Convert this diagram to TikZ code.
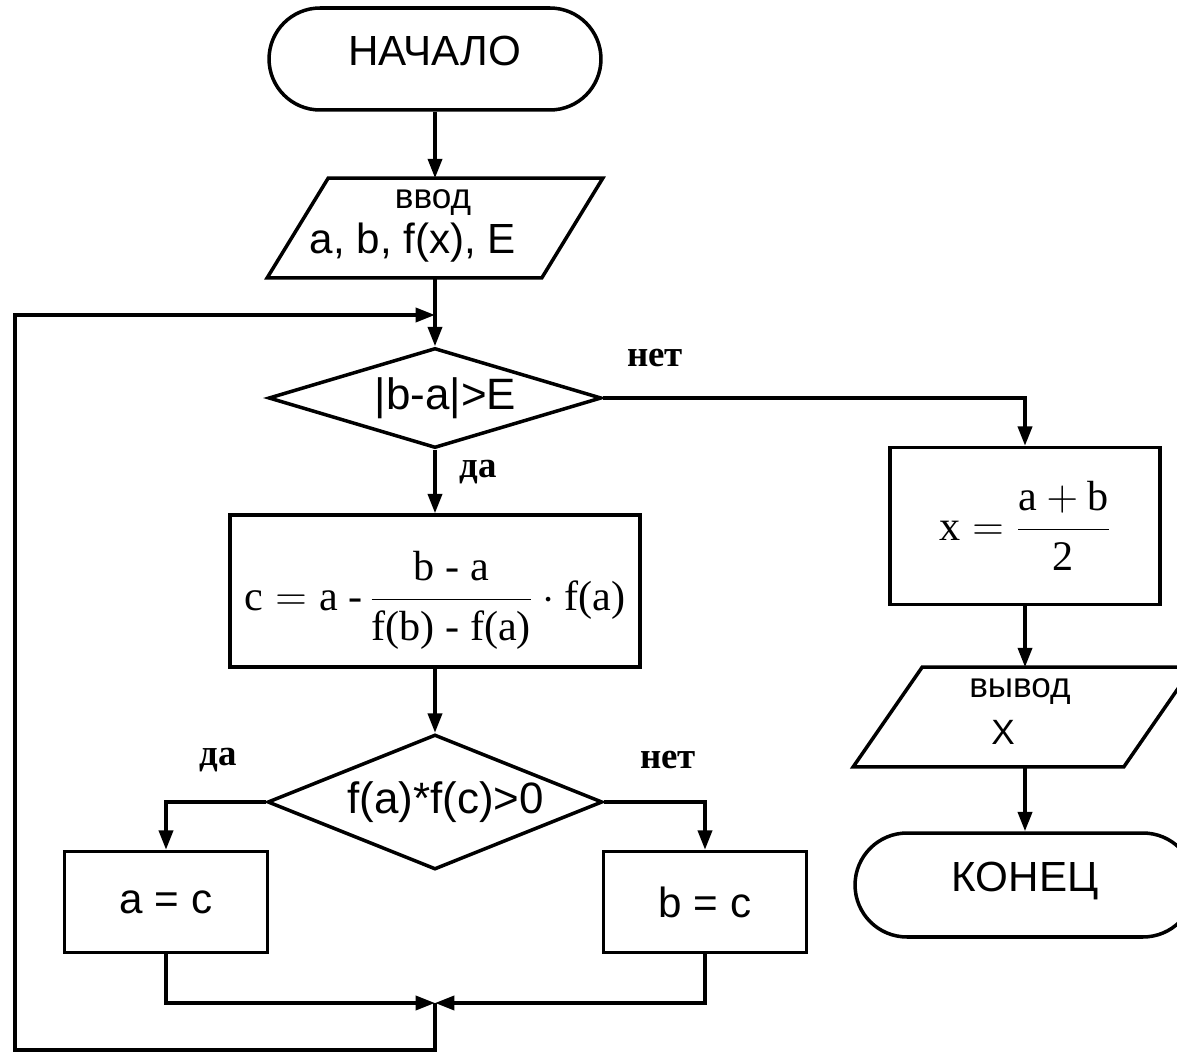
\documentclass[tikz,border=0pt]{standalone}
\usepackage{fontspec}
\setmainfont{Liberation Serif}
\setsansfont{Liberation Sans}
\usetikzlibrary{shapes.geometric,shapes.misc,arrows.meta}

\tikzset{
  termbox/.style={draw, rounded rectangle, line width=2pt, inner sep=0pt,
    font=\sffamily\fontsize{24}{28}\selectfont},
  iobox/.style={rectangle, inner sep=0pt},
  ioline/.style={line width=2pt, line join=miter},
  ifbox/.style={draw, diamond, line width=2pt, inner sep=0pt,
    font=\sffamily\fontsize{25}{28}\selectfont},
  procbox/.style={draw, rectangle, line width=2pt, inner sep=0pt,
    font=\sffamily\fontsize{24}{28}\selectfont},
  iotext/.style={font=\sffamily\fontsize{20}{22}\selectfont},
  yesno/.style={font=\rmfamily\bfseries\fontsize{21}{24}\selectfont},
  flow/.style={line width=2pt, -{Triangle[length=11pt,width=8pt]}},
}

\begin{document}
\begin{tikzpicture}[x=0.02cm, y=-0.02cm]
  \useasboundingbox (0,0) rectangle (1177,1054);
  % main column
  \node[termbox, minimum width=6.64cm, minimum height=2.04cm] (start) at (435,59)
    {\raisebox{-3.5pt}[0pt][0pt]{НАЧАЛО}};
  \node[iobox, minimum width=6.7cm, minimum height=1.98cm] (in) at (435,228) {};
  \draw[ioline] (in.south west) -- ([xshift=1.22cm]in.north west) -- (in.north east)
    -- ([xshift=-1.22cm]in.south east) -- cycle;
  \node[iotext] (inhead) at (433,203) {ввод};
  \node[font=\sffamily\fontsize{24}{28}\selectfont] (invars) at (413,243) {a, b, f(x), E};
  \node[ifbox, shape aspect=3.3, minimum width=6.66cm, minimum height=2cm] (cond) at (435,398)
    {\hspace*{12pt}|b-a|>E};
  \node[procbox, minimum width=8.2cm, minimum height=3.04cm] (calc) at (435,591)
    {\raisebox{-11pt}[0pt][0pt]{\rmfamily $\textrm{c} = \textrm{a -}\, \displaystyle\frac{\textrm{b - a}}{\textrm{f(b) - f(a)}}\cdot\textrm{f(a)}$}};
  \node[ifbox, shape aspect=2.5, minimum width=6.7cm, minimum height=2.7cm] (test) at (435,802)
    {\hspace*{12pt}f(a)*f(c)>0};
  \node[procbox, minimum width=4.06cm, minimum height=2.02cm] (seta) at (166,902) {a = c};
  \node[procbox, minimum width=4.06cm, minimum height=2.02cm] (setb) at (705,902) {b = c};
  % right column
  \node[procbox, minimum width=5.4cm, minimum height=3.14cm] (mid) at (1025,526)
    {\rmfamily $\textrm{x} = \displaystyle\frac{\textrm{a} + \textrm{b}}{\textrm{2}}$};
  \node[iobox, minimum width=6.78cm, minimum height=1.98cm] (out) at (1023,717) {};
  \draw[ioline] (out.south west) -- ([xshift=1.38cm]out.north west) -- (out.north east)
    -- ([xshift=-1.38cm]out.south east) -- cycle;
  \node[iotext] (outhead) at (1020,692) {вывод};
  \node[font=\sffamily\fontsize{20}{24}\selectfont] (outvar) at (1003,732) {X};
  \node[termbox, minimum width=6.8cm, minimum height=2.08cm] (stop) at (1025,885)
    {\raisebox{-3.5pt}[0pt][0pt]{КОНЕЦ}};
  % branch labels
  \node[yesno] (no1) at (655,358) {нет};
  \node[yesno] (yes1) at (478,472) {да};
  \node[yesno] (yes2) at (218,760) {да};
  \node[yesno] (no2) at (668,760) {нет};
  % loop points
  \coordinate (jn) at (435,1003);
  \coordinate (loopbl) at (15,1050);
  \coordinate (back) at (435,315);
  % connectors
  \draw[flow] (start.south) -- (in.north);
  \draw[flow] (in.south) -- (cond.north);
  \draw[flow] (cond.south) -- (calc.north);
  \draw[flow] (calc.south) -- (test.north);
  \draw[flow] (cond.east) -| (mid.north);
  \draw[flow] (test.west) -| (seta.north);
  \draw[flow] (test.east) -| (setb.north);
  \draw[flow] (seta.south) |- (jn);
  \draw[flow] (setb.south) |- (jn);
  \draw[flow] (jn) |- (loopbl) |- (back);
  \draw[flow] (mid.south) -- (out.north -| mid.south);
  \draw[flow] (out.south -| stop.north) -- (stop.north);
\end{tikzpicture}
\end{document}
